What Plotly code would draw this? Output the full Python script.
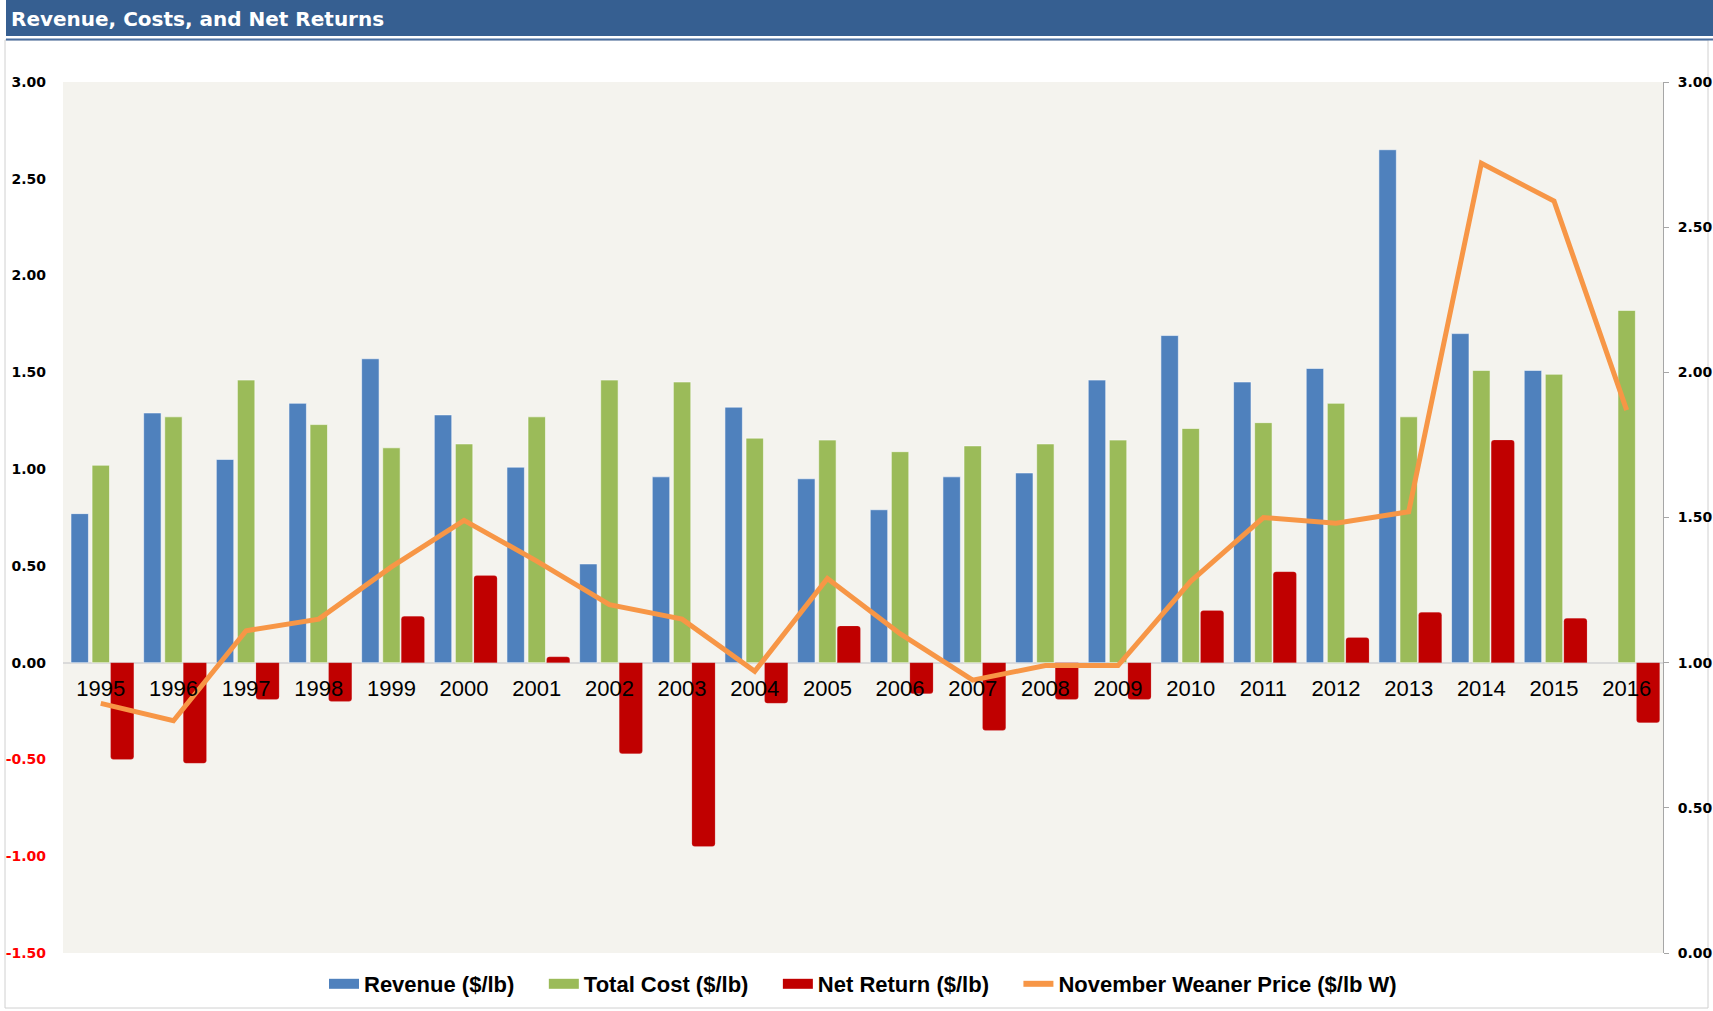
import plotly.graph_objects as go

# ---------------- data ----------------
years = list(range(1995, 2017))
revenue = [0.77, 1.29, 1.05, 1.34, 1.57, 1.28, 1.01, 0.51, 0.96, 1.32, 0.95,
           0.79, 0.96, 0.98, 1.46, 1.69, 1.45, 1.52, 2.65, 1.70, 1.51, None]
total_cost = [1.02, 1.27, 1.46, 1.23, 1.11, 1.13, 1.27, 1.46, 1.45, 1.16, 1.15,
              1.09, 1.12, 1.13, 1.15, 1.21, 1.24, 1.34, 1.27, 1.51, 1.49, 1.82]
net_return = [-0.50, -0.52, -0.19, -0.20, 0.24, 0.45, 0.03, -0.47, -0.95, -0.21, 0.19,
              -0.16, -0.35, -0.19, -0.19, 0.27, 0.47, 0.13, 0.26, 1.15, 0.23, -0.31]
weaner_price = [0.86, 0.80, 1.11, 1.15, 1.33, 1.49, 1.35, 1.20, 1.15, 0.97, 1.29,
                1.10, 0.94, 0.99, 0.99, 1.28, 1.50, 1.48, 1.52, 2.72, 2.59, 1.87]

left_ticks = [-1.5, -1.0, -0.5, 0.0, 0.5, 1.0, 1.5, 2.0, 2.5, 3.0]
right_ticks = [0.0, 0.5, 1.0, 1.5, 2.0, 2.5, 3.0]

# ---------------- layout geometry ----------------
W, H = 1713, 1011
ML, MR, MT, MB = 63, 50, 82, 58
PW, PH = W - ML - MR, H - MT - MB


def px_x(px):
    return (px - ML) / PW


def px_y(py):
    return (H - MB - py) / PH


BLUE = "#4F81BD"
GREEN = "#9BBB59"
RED = "#C00000"
ORANGE = "#F79646"
PAD = "\u00a0" * 4

fig = go.Figure()
fig.add_trace(go.Bar(
    x=years, y=revenue, name="Revenue ($/lb)", marker_color=BLUE,
    marker_line=dict(color="rgba(255,255,255,0.55)", width=1),
    width=0.24, offset=-0.41, showlegend=False, legendgroup="rev"))
fig.add_trace(go.Bar(
    x=years, y=total_cost, name="Total Cost ($/lb)", marker_color=GREEN,
    marker_line=dict(color="rgba(255,255,255,0.55)", width=1),
    width=0.24, offset=-0.12, showlegend=False, legendgroup="cost"))
fig.add_trace(go.Bar(
    x=years, y=net_return, name="Net Return ($/lb)", marker_color=RED,
    marker_line=dict(color="rgba(255,255,255,0.3)", width=0.5),
    marker_cornerradius=3, width=0.32, offset=0.135, showlegend=False, legendgroup="net"))
fig.add_trace(go.Scatter(
    x=years, y=weaner_price, name="November Weaner Price ($/lb W)", yaxis="y2",
    mode="lines", line=dict(color=ORANGE, width=5), showlegend=False, legendgroup="price"))

# legend proxies (wide rectangular keys like the original)
for name, color, lw, grp in [("Revenue ($/lb)" + PAD, BLUE, 11, "rev"),
                             ("Total Cost ($/lb)" + PAD, GREEN, 11, "cost"),
                             ("Net Return ($/lb)" + PAD, RED, 16, "net"),
                             ("November Weaner Price ($/lb W)", ORANGE, 6, "price")]:
    fig.add_trace(go.Scatter(x=[None], y=[None], mode="lines", name=name,
                             line=dict(color=color, width=lw), legendgroup=grp,
                             showlegend=True, hoverinfo="skip"))


def left_label(v):
    s = f"{v:.2f}"
    if v < 0:
        return f"<span style='color:#FF0000'>{s}</span>"
    return s


tick_font = dict(family="DejaVu Sans, Verdana, sans-serif", size=14, color="black")

fig.update_layout(
    width=W, height=H,
    margin=dict(l=ML, r=MR, t=MT, b=MB, autoexpand=False),
    paper_bgcolor="white",
    plot_bgcolor="#F4F3EE",
    barmode="overlay",
    showlegend=True,
    legend=dict(
        orientation="h", x=0.5, xanchor="center",
        yref="container", y=(H - 984) / H, yanchor="middle",
        font=dict(family="Liberation Sans Narrow, Arial Narrow, Liberation Sans, Arial",
                  size=22, color="black", weight="bold"),
        traceorder="normal", itemwidth=30, bgcolor="rgba(0,0,0,0)",
    ),
    xaxis=dict(
        range=[1994.48, 2016.5], tickmode="array", tickvals=years,
        ticktext=[str(y) for y in years],
        anchor="free", position=1.5 / 4.5, automargin=False,
        showgrid=False, zeroline=False, showline=False, ticks="",
        ticklabelstandoff=10, layer="above traces",
        tickfont=dict(family="Liberation Sans, Arial, sans-serif", size=22, color="black"),
    ),
    yaxis=dict(
        range=[-1.5, 3.0], tickmode="array", tickvals=left_ticks,
        ticktext=[left_label(v) for v in left_ticks], automargin=False,
        showgrid=False, zeroline=True, zerolinecolor="#DADADA", zerolinewidth=2,
        showline=False, ticks="", ticklabelstandoff=16,
        tickfont=dict(tick_font, weight="bold"),
    ),
    yaxis2=dict(
        range=[0.0, 3.0], overlaying="y", side="right", tickmode="array",
        tickvals=right_ticks, ticktext=[f"{v:.2f}" for v in right_ticks],
        automargin=False,
        showgrid=False, zeroline=False, showline=True, linecolor="#A6A6A6", linewidth=1,
        ticks="outside", ticklen=5, tickcolor="#A6A6A6", ticklabelstandoff=6,
        tickfont=dict(tick_font, weight="bold"),
    ),
    shapes=[
        # outer chart border
        dict(type="rect", xref="paper", yref="paper", layer="below",
             x0=px_x(5), x1=px_x(1708), y0=px_y(1008), y1=px_y(40),
             line=dict(color="#D0D0D0", width=1), fillcolor="rgba(0,0,0,0)"),
        # title bar
        dict(type="rect", xref="paper", yref="paper", layer="below",
             x0=px_x(6), x1=px_x(1713), y0=px_y(36), y1=px_y(0),
             line=dict(width=0), fillcolor="#365F91"),
        dict(type="line", xref="paper", yref="paper",
             x0=px_x(6), x1=px_x(1713), y0=px_y(39.5), y1=px_y(39.5),
             line=dict(color="#4A6FA0", width=2)),
    ],
    annotations=[
        dict(text="Revenue, Costs, and Net Returns", xref="paper", yref="paper",
             x=px_x(9), y=px_y(19), xanchor="left", yanchor="middle", showarrow=False,
             font=dict(family="DejaVu Sans, Verdana, sans-serif", size=20,
                       color="white", weight="bold")),
    ],
)

fig.write_html("out.html", config={"displayModeBar": False},
               post_script="document.body.style.margin='0';document.body.style.overflow='hidden';")
